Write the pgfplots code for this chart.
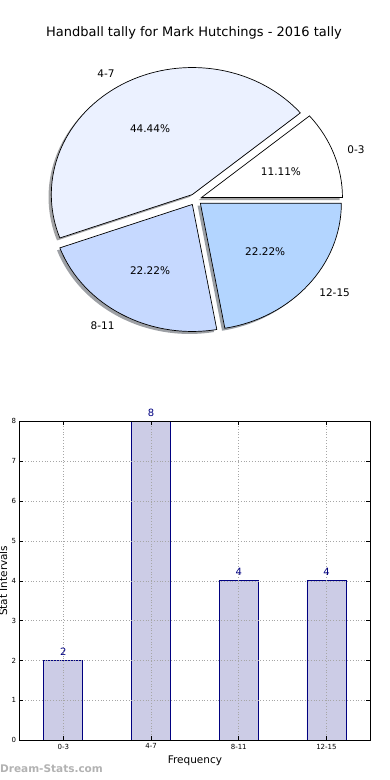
\documentclass[border=0pt]{standalone}
\usepackage{fontspec}
\setmainfont{DejaVu Sans}
\usepackage{pgfplots}
\usepackage{pgfplotstable}
\pgfplotsset{compat=1.18}

\definecolor{pA}{HTML}{FFFFFF}
\definecolor{pB}{HTML}{EBF1FF}
\definecolor{pC}{HTML}{C6D9FF}
\definecolor{pD}{HTML}{B3D5FF}
\definecolor{navy}{RGB}{0,0,128}
\definecolor{barfill}{RGB}{204,204,230}

\pgfplotstableread{
label value
0-3 2
4-7 8
8-11 4
12-15 4
}\tallydata

\newcommand\rx{141}
\newcommand\ry{127}
\newcommand\expl{0.045}
\newcommand\piefont{\fontsize{10.5}{12}\selectfont}

% shadow: start, end, colour
\newcommand\pieshadow[3]{\pgfplotsextra{%
 \pgfmathsetmacro\pmid{(#1+#2)/2}%
 \pgfmathsetmacro\ox{\expl*\rx*cos(\pmid)-2.8}%
 \pgfmathsetmacro\oy{\expl*\ry*sin(\pmid)-2.5}%
 \pgfmathsetmacro\sx{\ox+\rx*cos(#1)}%
 \pgfmathsetmacro\sy{\oy+\ry*sin(#1)}%
 \fill[#3!30!black, opacity=0.5] (axis cs:\ox,\oy) -- (axis cs:\sx,\sy)
   arc[start angle=#1, end angle=#2, x radius=\rx pt, y radius=\ry pt] -- cycle;
}}
% slice: start, end, colour, label, percent, label anchor
\newcommand\pieslice[6]{\pgfplotsextra{%
 \pgfmathsetmacro\pmid{(#1+#2)/2}%
 \pgfmathsetmacro\ox{\expl*\rx*cos(\pmid)}%
 \pgfmathsetmacro\oy{\expl*\ry*sin(\pmid)}%
 \pgfmathsetmacro\sx{\ox+\rx*cos(#1)}%
 \pgfmathsetmacro\sy{\oy+\ry*sin(#1)}%
 \pgfmathsetmacro\lx{\ox+1.1*\rx*cos(\pmid)}%
 \pgfmathsetmacro\ly{\oy+1.1*\ry*sin(\pmid)}%
 \pgfmathsetmacro\tx{\ox+0.6*\rx*cos(\pmid)}%
 \pgfmathsetmacro\ty{\oy+0.6*\ry*sin(\pmid)}%
 \filldraw[fill=#3, draw=black, line width=0.7pt, line join=miter] (axis cs:\ox,\oy) -- (axis cs:\sx,\sy)
   arc[start angle=#1, end angle=#2, x radius=\rx pt, y radius=\ry pt] -- cycle;
 \node[anchor=#6, font=\piefont, inner sep=0pt] at (axis cs:\lx,\ly) {#4};
 \node[font=\piefont, inner sep=0pt] at (axis cs:\tx,\ty)
   {\pgfmathprintnumber[fixed,precision=2,fixed zerofill,assume math mode=true]{#5}\%};
}}

\begin{document}
\begin{tikzpicture}
\pgfplotstablegetelem{0}{value}\of\tallydata \edef\vA{\pgfplotsretval}
\pgfplotstablegetelem{1}{value}\of\tallydata \edef\vB{\pgfplotsretval}
\pgfplotstablegetelem{2}{value}\of\tallydata \edef\vC{\pgfplotsretval}
\pgfplotstablegetelem{3}{value}\of\tallydata \edef\vD{\pgfplotsretval}
\pgfmathsetmacro\tot{\vA+\vB+\vC+\vD}
\pgfmathsetmacro\aA{360*\vA/\tot}
\pgfmathsetmacro\aB{\aA+360*\vB/\tot}
\pgfmathsetmacro\aC{\aB+360*\vC/\tot}
\pgfmathsetmacro\aD{\aC+360*\vD/\tot}
\pgfmathsetmacro\pA{100*\vA/\tot}
\pgfmathsetmacro\pB{100*\vB/\tot}
\pgfmathsetmacro\pC{100*\vC/\tot}
\pgfmathsetmacro\pD{100*\vD/\tot}

% title
\node[anchor=base, font=\fontsize{13}{15}\selectfont, inner sep=0pt] at (194pt,743.5pt)
  {Handball tally for Mark Hutchings - 2016 tally};

% pie
\begin{axis}[at={(195.5pt,580.5pt)}, anchor=origin, x=1pt, y=1pt, hide axis,
  xmin=-180, xmax=180, ymin=-160, ymax=160, clip=false]
\pieshadow{0}{\aA}{pA}
\pieshadow{\aA}{\aB}{pB}
\pieshadow{\aB}{\aC}{pC}
\pieshadow{\aC}{\aD}{pD}
\pieslice{0}{\aA}{pA}{0-3}{\pA}{west}
\pieslice{\aA}{\aB}{pB}{4-7}{\pB}{east}
\pieslice{\aB}{\aC}{pC}{8-11}{\pC}{east}
\pieslice{\aC}{\aD}{pD}{12-15}{\pD}{west}
\end{axis}

% bar chart
\begin{axis}[at={(19.5pt,39.7pt)}, anchor=south west, scale only axis,
  width=350.8pt, height=319pt,
  xmin=-0.5, xmax=3.5, ymin=0, ymax=8,
  ybar, bar width=39pt,
  xtick={0,1,2,3}, xticklabels={0-3,4-7,8-11,12-15},
  ytick={0,1,...,8},
  tick align=inside, major tick length=4pt,
  grid=major, grid style={dash pattern=on 0.8pt off 2pt, black!35, line width=0.6pt},
  axis on top,
  axis line style={line width=0.8pt},
  tick style={black, line width=0.6pt},
  ticklabel style={font=\fontsize{7}{8}\selectfont},
  /pgf/number format/assume math mode=true,
  xlabel={Frequency}, ylabel={Stat Intervals},
  label style={font=\fontsize{10.5}{12}\selectfont},
  xlabel style={at={(axis description cs:0.5,-0.0727)}, anchor=base},
  ylabel style={at={(axis description cs:-0.0356,0.5)}, anchor=base},
  nodes near coords,
  every node near coord/.append style={font=\fontsize{10}{11}\selectfont, text=navy, anchor=base, yshift=5pt, inner sep=0pt},
]
\addplot[fill=barfill, draw=navy, line width=0.8pt] table[x expr=\coordindex, y=value] {\tallydata};
\end{axis}

% watermark
\node[anchor=base west, inner sep=0pt, text=black!30, font=\bfseries\fontsize{10.5}{12}\selectfont] at (0pt,7.5pt) {Dream-Stats.com};

\pgfresetboundingbox
\useasboundingbox (0,0) rectangle (390pt,780pt);
\end{tikzpicture}
\end{document}
